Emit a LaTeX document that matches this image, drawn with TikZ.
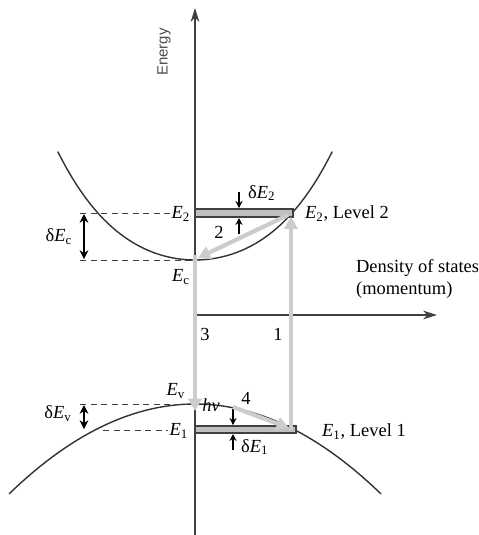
\documentclass[tikz,border=0pt]{standalone}
\usepackage{fontspec}
\setmainfont{Liberation Serif}
\newfontfamily\axisfont{Liberation Sans}
\usetikzlibrary{arrows.meta}

\newcommand{\En}[1]{\textit{E}\textsubscript{#1}}

\begin{document}
\begin{tikzpicture}[x=0.02cm,y=-0.02cm,
        axis/.style={draw=black!75,line width=0.6pt,-{Stealth[length=8pt,width=5pt]}},
        band/.style={draw=black!80,line width=0.8pt},
        guide/.style={dash pattern=on 3.5pt off 2.5pt,draw=black!75,line width=0.5pt},
        level/.style={draw=black!75,fill=black!25,line width=0.6pt},
        trans/.style={draw=black!20,line width=2.4pt,-{Triangle[length=7pt,width=7.5pt]}},
        nudge/.style={line width=0.6pt,-{Stealth[length=4pt,width=4pt]}},
        span/.style={line width=0.6pt,{Stealth[length=5pt,width=5pt]}-{Stealth[length=5pt,width=5pt]}},
        lbl/.style={inner sep=1pt,font=\fontsize{10.5}{12}\selectfont}]

    \useasboundingbox (0,0) rectangle (478,535);

    % Key points
    \coordinate (ybot) at (195,535);
    \coordinate (ytop) at (195,8);
    \coordinate (O) at (195,315);
    \coordinate (xend) at (437,315);
    \coordinate (Ec) at (195,260);
    \coordinate (Ev) at (195,404);
    \coordinate (E2r) at (291,213);
    \coordinate (E1r) at (291,430);

    % Bands
    \draw[band] plot[domain=-1.4:1.4,samples=61]
        ({195+98*\x},{260-40.4*\x*\x-7.6*\x*\x*\x*\x});
    \draw[band] plot[domain=-1.86:1.86,samples=61] ({195+100*\x},{404+26*\x*\x});

    % Axes
    \draw[axis] (ybot) -- (ytop);
    \draw[axis] (O) -- (xend);
    \node[rotate=90,inner sep=1pt,text=black!70,font=\axisfont\fontsize{8.5}{10}\selectfont] (energy) at (164,52) {Energy};
    \node[lbl,anchor=west,align=left] (dos) at (354,279) {Density of states\\(momentum)};

    % Levels
    \draw[level] (195,209) rectangle (293,217);
    \draw[level] (195,426) rectangle (296,433);

    % Level labels and guides
    \node[lbl] (lE2) at (181,214) {\En{2}};
    \node[lbl] (lEc) at (181,277) {\En{c}};
    \node[lbl] (lEv) at (176,391) {\En{v}};
    \node[lbl] (lE1) at (179,431) {\En{1}};
    \coordinate (gE2) at (80,213);
    \coordinate (gEc) at (80,260);
    \coordinate (gEv) at (80,404);
    \coordinate (gE1) at (103,430);
    \draw[guide] (gE2) -- (lE2.west |- gE2);
    \draw[guide] (gEc) -- (Ec);
    \draw[guide] (gEv) -- (lEv.south east |- gEv);
    \draw[guide] (gE1) -- (lE1.west |- gE1);

    % Widths of the levels
    \coordinate (sEc1) at (84,214);
    \coordinate (sEc2) at (84,259);
    \coordinate (sEv1) at (84,405);
    \coordinate (sEv2) at (84,429);
    \draw[span] (sEc1) -- (sEc2);
    \draw[span] (sEv1) -- (sEv2);
    \node[lbl] (dEc) at (59,237) {δ\En{c}};
    \node[lbl] (dEv) at (58,414) {δ\En{v}};

    \coordinate (a2t) at (239,192);
    \coordinate (a2u) at (239,208);
    \coordinate (a2b) at (239,234);
    \coordinate (a2d) at (239,218);
    \draw[nudge] (a2t) -- (a2u);
    \draw[nudge] (a2b) -- (a2d);
    \node[lbl,anchor=west] (dE2) at (246,193) {δ\En{2}};

    \coordinate (a1t) at (233,409);
    \coordinate (a1u) at (233,425);
    \coordinate (a1b) at (233,450);
    \coordinate (a1d) at (233,434);
    \draw[nudge] (a1t) -- (a1u);
    \draw[nudge] (a1b) -- (a1d);
    \node[lbl,anchor=west] (dE1) at (239,447) {δ\En{1}};

    % Transitions
    \coordinate (hv) at (212,407);
    \coordinate (E1in) at (289,428);
    \draw[trans] (E1r) -- ([yshift=-2]E2r);
    \draw[trans] ([shift={(-3,2)}]E2r) -- ([shift={(3,-2)}]Ec);
    \draw[trans] ([yshift=3]Ec) -- ([yshift=-4]Ev);
    \draw[trans] ([xshift=12]hv) -- (E1in);

    % Step numbers
    \node[lbl] (n1) at (278,334) {1};
    \node[lbl] (n2) at (219,232) {2};
    \node[lbl] (n3) at (205,334) {3};
    \node[lbl] (n4) at (246,398) {4};
    \node[lbl] (nhv) at (211,405) {\textit{hν}};

    \node[lbl,anchor=west] (lev2) at (303,214) {\En{2}, Level 2};
    \node[lbl,anchor=west] (lev1) at (320,432) {\En{1}, Level 1};

\end{tikzpicture}
\end{document}
